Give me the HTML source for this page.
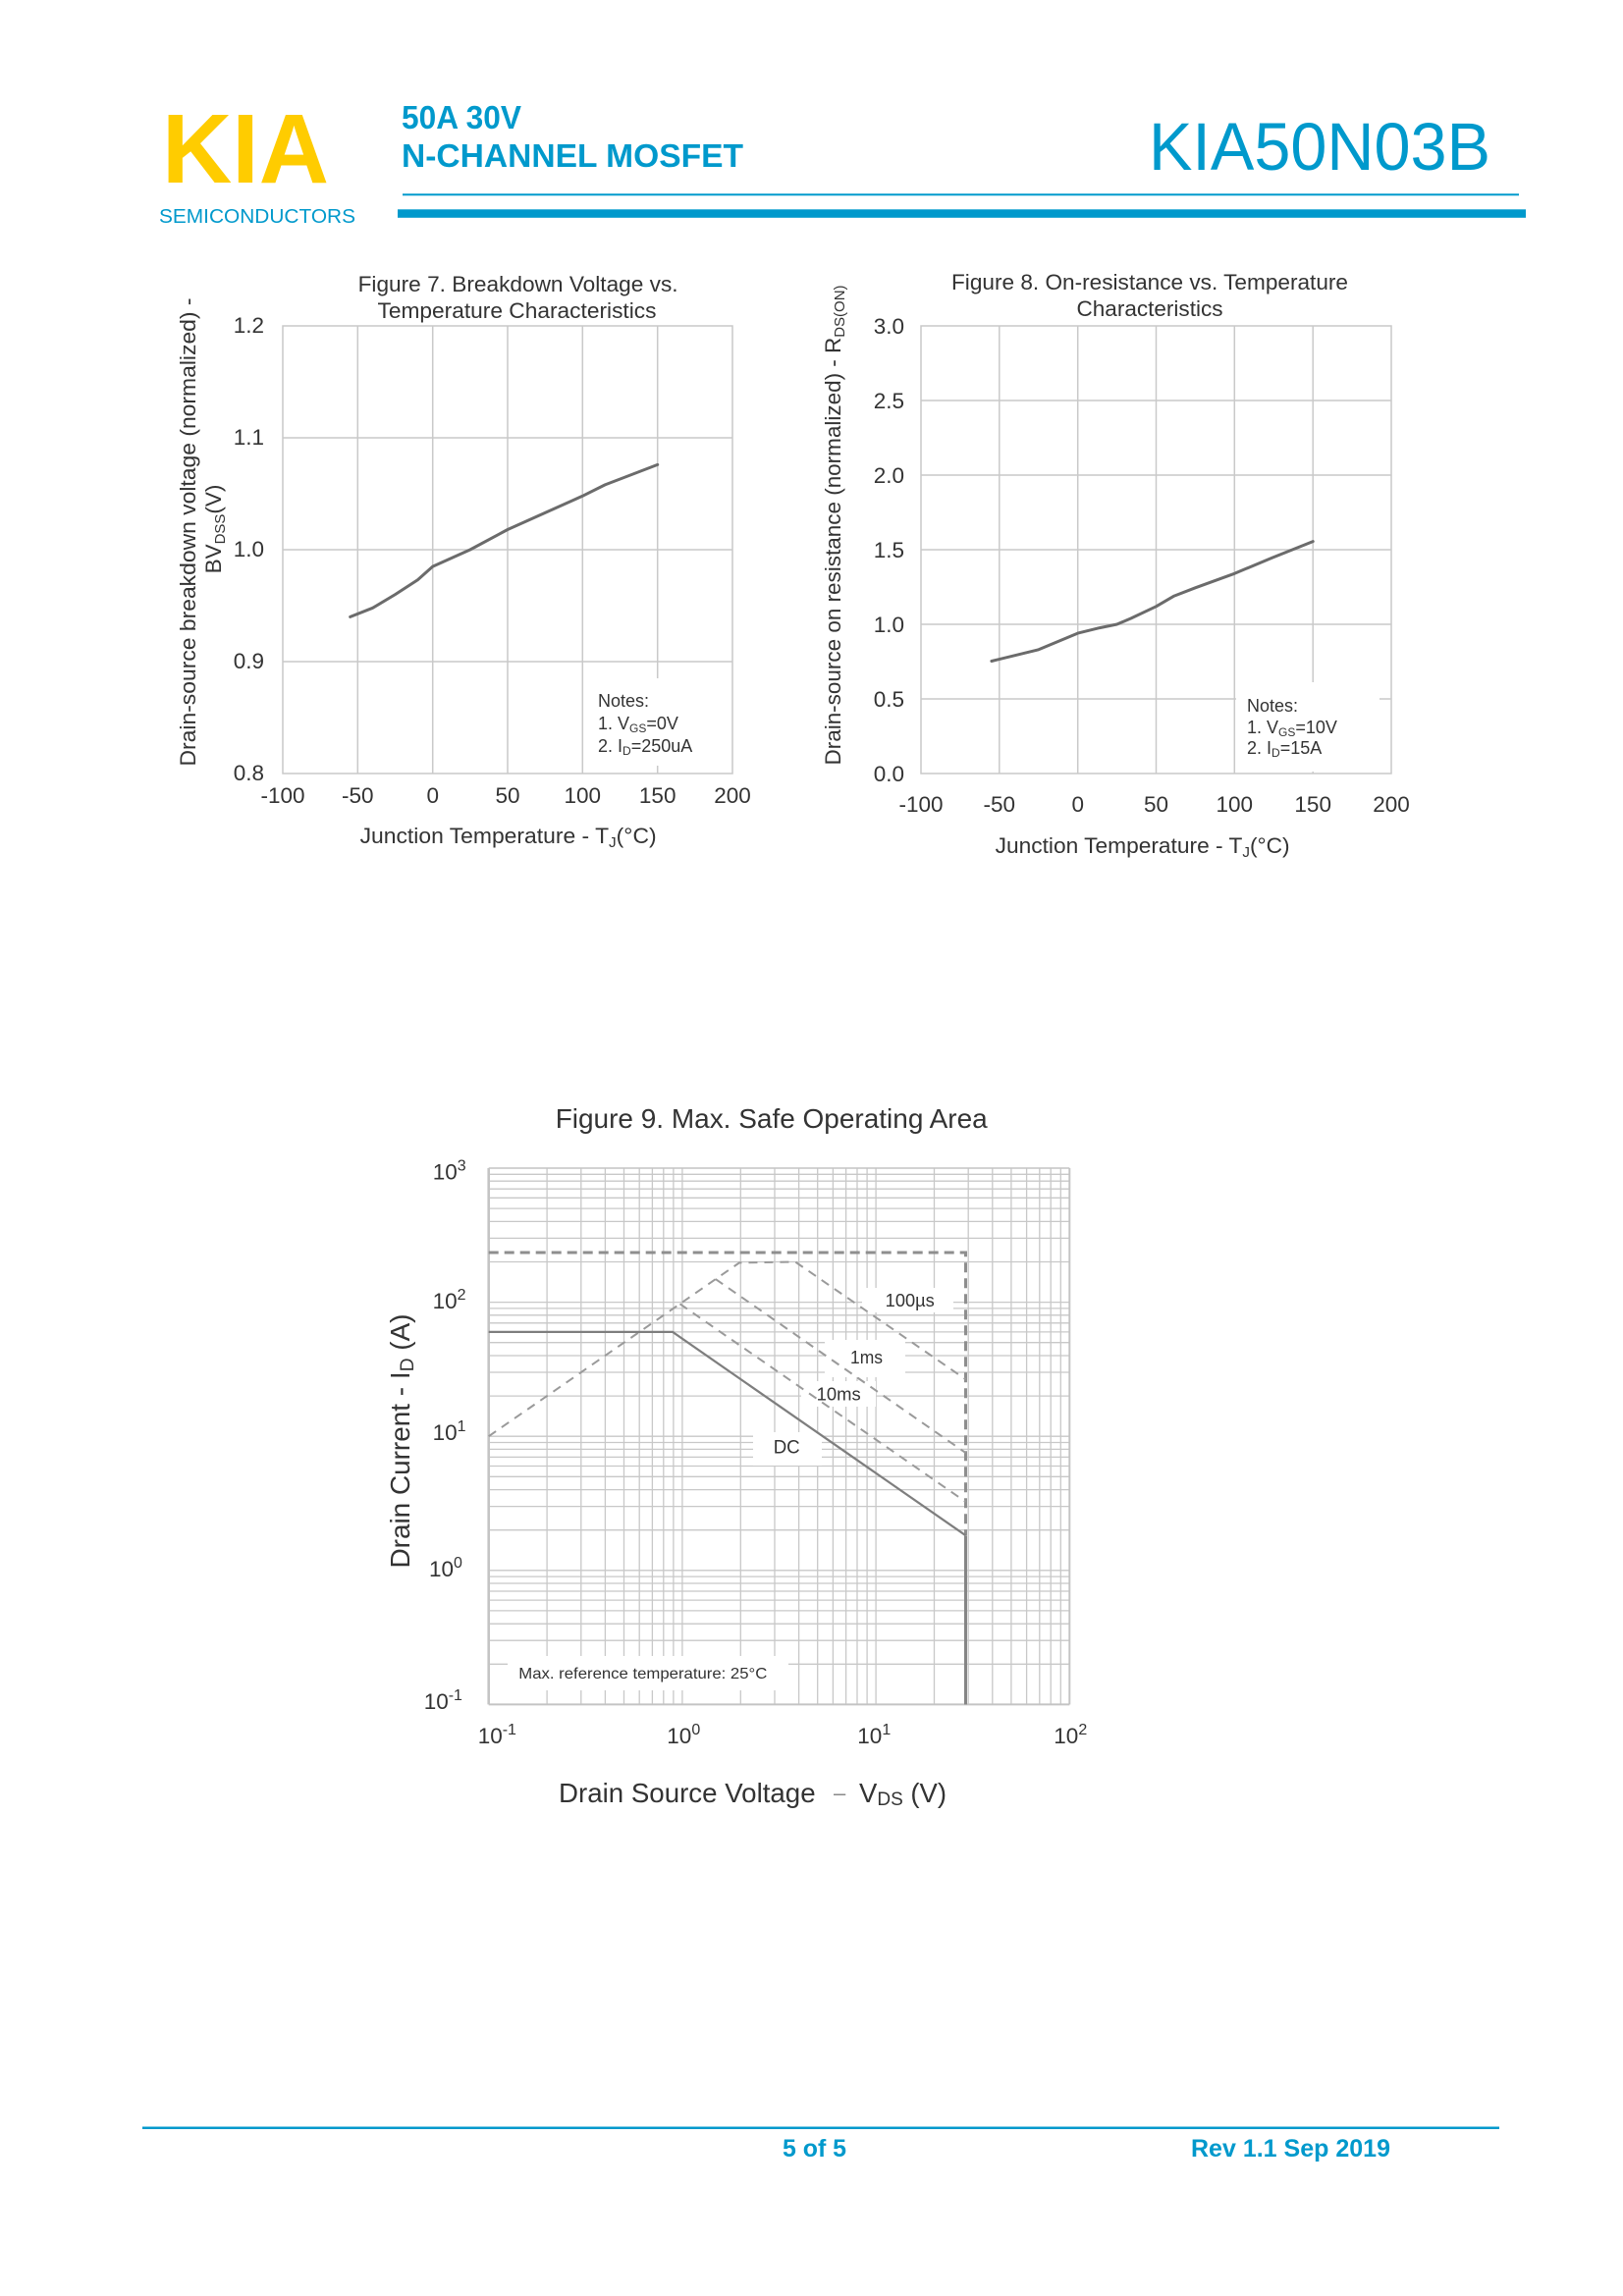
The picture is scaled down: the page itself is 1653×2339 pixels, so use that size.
<!DOCTYPE html>
<html><head><meta charset="utf-8">
<style>
html,body{margin:0;padding:0;background:#fff;}
svg{display:block;}
text{font-family:"Liberation Sans",Arial,sans-serif;}
</style></head><body>
<svg width="1653" height="2339" viewBox="0 0 1653 2339" xmlns="http://www.w3.org/2000/svg">
<rect x="0" y="0" width="1653" height="2339" fill="#fff"/>

<!-- HEADER -->
<text x="165" y="186" font-size="100" font-weight="bold" fill="#FFCC00" textLength="170" lengthAdjust="spacingAndGlyphs">KIA</text>
<text x="162" y="227" font-size="20.5" fill="#0099CC" textLength="200" lengthAdjust="spacingAndGlyphs">SEMICONDUCTORS</text>
<text x="409" y="131" font-size="33" font-weight="bold" fill="#0099CC" textLength="122" lengthAdjust="spacingAndGlyphs">50A 30V</text>
<text x="409" y="170" font-size="33" font-weight="bold" fill="#0099CC" textLength="348" lengthAdjust="spacingAndGlyphs">N-CHANNEL MOSFET</text>
<text x="1170" y="173" font-size="69" fill="#0099CC" textLength="348" lengthAdjust="spacingAndGlyphs">KIA50N03B</text>
<rect x="410" y="197.3" width="1137" height="2" fill="#0099CC"/>
<rect x="405" y="213.3" width="1149" height="8.5" fill="#0099CC"/>

<!-- FIGURE 7 -->
<g stroke="#c9c9c9" stroke-width="1.5" fill="none">
<rect x="288" y="332" width="458" height="456"/>
<path d="M364.3 332V788M440.7 332V788M517 332V788M593.3 332V788M669.7 332V788M288 446H746M288 560H746M288 674H746"/>
</g>
<rect x="601" y="691" width="141" height="89" fill="#fff"/>
<polyline fill="none" stroke="#6b6b6b" stroke-width="3" stroke-linejoin="round" stroke-linecap="round"
 points="356.7,628.4 379.6,619.3 402.5,605.6 425.4,590.8 440.7,577.1 478.8,560 517,539.5 555.2,522.4 593.3,505.3 616.2,493.9 669.7,473.4"/>
<g font-size="22.5" fill="#333">
<text x="364.6" y="297" textLength="326" lengthAdjust="spacingAndGlyphs">Figure 7. Breakdown Voltage vs.</text>
<text x="384.5" y="324" textLength="284" lengthAdjust="spacingAndGlyphs">Temperature Characteristics</text>
<g text-anchor="end">
<text x="269" y="339">1.2</text>
<text x="269" y="453">1.1</text>
<text x="269" y="567">1.0</text>
<text x="269" y="681">0.9</text>
<text x="269" y="795">0.8</text>
</g>
<g text-anchor="middle">
<text x="288" y="818">-100</text>
<text x="364.3" y="818">-50</text>
<text x="440.7" y="818">0</text>
<text x="517" y="818">50</text>
<text x="593.3" y="818">100</text>
<text x="669.7" y="818">150</text>
<text x="746" y="818">200</text>
</g>
<text x="366.6" y="859" textLength="302" lengthAdjust="spacingAndGlyphs">Junction Temperature - T<tspan font-size="15" dy="4">J</tspan><tspan dy="-4">(°C)</tspan></text>
<text transform="translate(199,542) rotate(-90)" text-anchor="middle" textLength="477" lengthAdjust="spacingAndGlyphs">Drain-source breakdown voltage (normalized)  -</text>
<text transform="translate(225,539) rotate(-90)" text-anchor="middle">BV<tspan font-size="15" dy="4">DSS</tspan><tspan dy="-4">(V)</tspan></text>
</g>
<g font-size="18" fill="#333">
<text x="609" y="720">Notes:</text>
<text x="609" y="743">1. V<tspan font-size="12" dy="3">GS</tspan><tspan dy="-3">=0V</tspan></text>
<text x="609" y="766">2. I<tspan font-size="12" dy="3">D</tspan><tspan dy="-3">=250uA</tspan></text>
</g>

<!-- FIGURE 8 -->
<g stroke="#c9c9c9" stroke-width="1.5" fill="none">
<rect x="938" y="332" width="479" height="456"/>
<path d="M1017.8 332V788M1097.7 332V788M1177.5 332V788M1257.3 332V788M1337.2 332V788M938 408H1417M938 484H1417M938 560H1417M938 636H1417M938 712H1417"/>
</g>
<rect x="1259" y="695" width="146" height="91" fill="#fff"/>
<polyline fill="none" stroke="#6b6b6b" stroke-width="3" stroke-linejoin="round" stroke-linecap="round"
 points="1009.9,673.5 1057.8,661.8 1097.7,645.1 1120,639.6 1137.6,636 1152,629.9 1177.5,617.8 1195.9,607.1 1217.4,598.8 1257.3,584.3 1295.6,568.2 1337.2,551.6"/>
<g font-size="22.5" fill="#333">
<text x="969" y="295" textLength="404" lengthAdjust="spacingAndGlyphs">Figure 8. On-resistance vs. Temperature</text>
<text x="1096.5" y="322" textLength="149" lengthAdjust="spacingAndGlyphs">Characteristics</text>
<g text-anchor="end">
<text x="921" y="340">3.0</text>
<text x="921" y="416">2.5</text>
<text x="921" y="492">2.0</text>
<text x="921" y="568">1.5</text>
<text x="921" y="644">1.0</text>
<text x="921" y="720">0.5</text>
<text x="921" y="796">0.0</text>
</g>
<g text-anchor="middle">
<text x="938" y="827">-100</text>
<text x="1017.8" y="827">-50</text>
<text x="1097.7" y="827">0</text>
<text x="1177.5" y="827">50</text>
<text x="1257.3" y="827">100</text>
<text x="1337.2" y="827">150</text>
<text x="1417" y="827">200</text>
</g>
<text x="1013.6" y="869" textLength="300" lengthAdjust="spacingAndGlyphs">Junction Temperature - T<tspan font-size="15" dy="4">J</tspan><tspan dy="-4">(°C)</tspan></text>
<text transform="translate(856,535) rotate(-90)" text-anchor="middle" textLength="489" lengthAdjust="spacingAndGlyphs">Drain-source on resistance (normalized) - R<tspan font-size="15" dy="4">DS(ON)</tspan></text>
</g>
<g font-size="18" fill="#333">
<text x="1270" y="725">Notes:</text>
<text x="1270" y="747">1. V<tspan font-size="12" dy="3">GS</tspan><tspan dy="-3">=10V</tspan></text>
<text x="1270" y="768">2. I<tspan font-size="12" dy="3">D</tspan><tspan dy="-3">=15A</tspan></text>
</g>

<!-- FIGURE 9 -->
<g stroke="#c8c8c8" stroke-width="1.3" fill="none">
<path d="M557.1 1190V1736.4M591.8 1190V1736.4M616.4 1190V1736.4M635.5 1190V1736.4M651.2 1190V1736.4M664.4 1190V1736.4M675.8 1190V1736.4M685.9 1190V1736.4M694.9 1190V1736.4M754.3 1190V1736.4M789 1190V1736.4M813.6 1190V1736.4M832.7 1190V1736.4M848.4 1190V1736.4M861.6 1190V1736.4M873 1190V1736.4M883.1 1190V1736.4M892.1 1190V1736.4M951.5 1190V1736.4M986.2 1190V1736.4M1010.8 1190V1736.4M1029.9 1190V1736.4M1045.6 1190V1736.4M1058.8 1190V1736.4M1070.2 1190V1736.4M1080.3 1190V1736.4"/>
<path d="M497.7 1196.3H1089.3M497.7 1203.2H1089.3M497.7 1211.2H1089.3M497.7 1220.3H1089.3M497.7 1231.1H1089.3M497.7 1244.4H1089.3M497.7 1261.4H1089.3M497.7 1285.5H1089.3M497.7 1326.6H1089.3M497.7 1332.9H1089.3M497.7 1339.8H1089.3M497.7 1347.8H1089.3M497.7 1356.9H1089.3M497.7 1367.7H1089.3M497.7 1381H1089.3M497.7 1398H1089.3M497.7 1422.1H1089.3M497.7 1463.2H1089.3M497.7 1469.5H1089.3M497.7 1476.4H1089.3M497.7 1484.4H1089.3M497.7 1493.5H1089.3M497.7 1504.3H1089.3M497.7 1517.6H1089.3M497.7 1534.6H1089.3M497.7 1558.7H1089.3M497.7 1599.8H1089.3M497.7 1606.1H1089.3M497.7 1613H1089.3M497.7 1621H1089.3M497.7 1630.1H1089.3M497.7 1640.9H1089.3M497.7 1654.2H1089.3M497.7 1671.2H1089.3M497.7 1695.3H1089.3"/>
</g>
<!-- label boxes -->
<g fill="#fff">
<rect x="878" y="1312" width="93" height="25"/>
<rect x="840" y="1365" width="82" height="38"/>
<rect x="816" y="1407" width="76" height="26"/>
<rect x="767" y="1459" width="70" height="34"/>
<rect x="517" y="1687" width="286" height="35"/>
</g>
<!-- borders -->
<g stroke="#c4c4c4" fill="none">
<path d="M497.7 1190H1089.3" stroke-width="1.5"/>
<path d="M1089.3 1190V1736.4" stroke-width="2"/>
<path d="M497.7 1736.4H1089.3" stroke-width="2"/>
<path d="M497.7 1190V1736.4" stroke-width="2.6"/>
</g>
<!-- curves -->
<g fill="none" stroke="#8e8e8e" stroke-width="3" stroke-dasharray="10 6">
<path d="M497.7 1276H983.5V1564"/>
</g>
<g fill="none" stroke="#9a9a9a" stroke-width="2" stroke-dasharray="9 7">
<path d="M497.7 1463.2L753 1286.4L810 1285.5L983.5 1405.2"/>
<path d="M728.8 1303.1L983.5 1480"/>
<path d="M692.5 1328.3L983.5 1529.9"/>
</g>
<path d="M497.7 1356.9H685L983.5 1564.2" fill="none" stroke="#7e7e7e" stroke-width="2.2"/>
<path d="M983.5 1564.2V1736.4" fill="none" stroke="#858585" stroke-width="3"/>
<!-- fig 9 texts -->
<g fill="#333">
<text x="565.7" y="1149" font-size="28" textLength="440" lengthAdjust="spacingAndGlyphs">Figure 9. Max. Safe Operating Area</text>
<text x="901.7" y="1331" font-size="18" textLength="50" lengthAdjust="spacingAndGlyphs">100µs</text>
<text x="866" y="1389" font-size="18" textLength="33" lengthAdjust="spacingAndGlyphs">1ms</text>
<text x="831.7" y="1426.7" font-size="18" textLength="45" lengthAdjust="spacingAndGlyphs">10ms</text>
<text x="787.7" y="1480.7" font-size="19" textLength="27" lengthAdjust="spacingAndGlyphs">DC</text>
<text x="528.3" y="1710" font-size="16" textLength="253" lengthAdjust="spacingAndGlyphs">Max. reference temperature: 25°C</text>
<g font-size="22.5">
<text x="440.7" y="1201.7">10<tspan font-size="16" dy="-9">3</tspan></text>
<text x="440.6" y="1333">10<tspan font-size="16" dy="-9">2</tspan></text>
<text x="440.6" y="1467">10<tspan font-size="16" dy="-9">1</tspan></text>
<text x="437" y="1606">10<tspan font-size="16" dy="-9">0</tspan></text>
<text x="431.7" y="1741">10<tspan font-size="16" dy="-9">-1</tspan></text>
<text x="486.7" y="1776">10<tspan font-size="16" dy="-9">-1</tspan></text>
<text x="679.3" y="1776">10<tspan font-size="16" dy="-9">0</tspan></text>
<text x="873.3" y="1776">10<tspan font-size="16" dy="-9">1</tspan></text>
<text x="1073.3" y="1776">10<tspan font-size="16" dy="-9">2</tspan></text>
</g>
<text x="569" y="1836" font-size="27.5" textLength="261.6" lengthAdjust="spacingAndGlyphs">Drain Source Voltage</text>
<text x="849" y="1834" font-size="22" fill="#888">–</text>
<text x="875" y="1836" font-size="27.5">V<tspan font-size="19" dy="3">DS</tspan><tspan dy="-3"> (V)</tspan></text>
<text transform="translate(417,1468) rotate(-90)" text-anchor="middle" font-size="27.5" textLength="259" lengthAdjust="spacingAndGlyphs">Drain Current - I<tspan font-size="19" dy="4">D</tspan><tspan dy="-4"> (A)</tspan></text>
</g>

<!-- FOOTER -->
<rect x="145" y="2166.5" width="1382" height="2.5" fill="#0099CC"/>
<text x="797" y="2197" font-size="25" font-weight="bold" fill="#0099CC" textLength="65" lengthAdjust="spacingAndGlyphs">5 of 5</text>
<text x="1213" y="2197" font-size="25" font-weight="bold" fill="#0099CC" textLength="203" lengthAdjust="spacingAndGlyphs">Rev 1.1 Sep 2019</text>
</svg>
</body></html>
